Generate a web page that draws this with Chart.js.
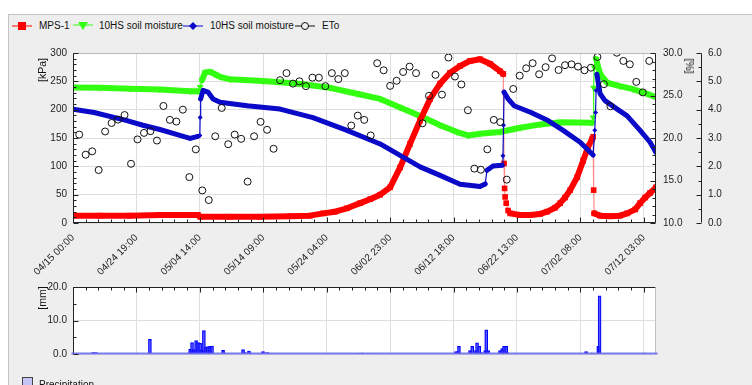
<!DOCTYPE html>
<html><head><meta charset="utf-8">
<script src="https://cdn.jsdelivr.net/npm/chart.js@4.4.1/dist/chart.umd.min.js"></script>
<style>
html,body{margin:0;padding:0;background:#fff;overflow:hidden;}
#wrap{position:relative;width:752px;height:385px;overflow:hidden;font-family:'Liberation Sans',Arial,sans-serif;color:#111;}
#panel{position:absolute;left:8px;top:14px;width:760px;height:400px;background:#eeeeee;border-left:1px solid #c4c4c4;border-top:1px solid #c4c4c4;}
canvas{position:absolute;left:0;}
#cTop{top:40px;}
#cBot{top:275px;}
.lg{position:absolute;font-size:10px;line-height:12px;white-space:nowrap;}
.ic{position:absolute;}
.ttl{position:absolute;font-size:10.5px;white-space:nowrap;transform:translate(-50%,-50%) rotate(-90deg);}
.ttlR{position:absolute;font-size:10.5px;white-space:nowrap;transform:translate(-50%,-50%) rotate(90deg);}
</style></head>
<body>
<div id="wrap">
  <div id="panel"></div>
  <svg class="ic" style="left:12px;top:21px" width="20" height="10"><line x1="0" y1="5" x2="20" y2="5" stroke="#ff0000" stroke-width="1"/><rect x="6" y="1" width="8" height="8" fill="#ff0000"/></svg>
  <div class="lg" style="left:39px;top:20px">MPS-1</div>
  <svg class="ic" style="left:73px;top:21px" width="20" height="10"><line x1="0" y1="4" x2="20" y2="4" stroke="#33ff11" stroke-width="1"/><polygon points="5,1 15,1 10,9" fill="#33ff11"/></svg>
  <div class="lg" style="left:99px;top:20px">10HS soil moisture</div>
  <svg class="ic" style="left:183px;top:21px" width="20" height="10"><line x1="0" y1="5" x2="20" y2="5" stroke="#0a0ac8" stroke-width="1"/><polygon points="10,1 14,5 10,9 6,5" fill="#0a0ac8"/></svg>
  <div class="lg" style="left:210px;top:20px">10HS soil moisture</div>
  <svg class="ic" style="left:295px;top:21px" width="20" height="10"><line x1="0" y1="5" x2="20" y2="5" stroke="#111" stroke-width="1"/><circle cx="10" cy="5" r="3.5" fill="#eeeeee" stroke="#111" stroke-width="1"/></svg>
  <div class="lg" style="left:322px;top:20px">ETo</div>
  <canvas id="cTop" width="752" height="245"></canvas>
  <canvas id="cBot" width="752" height="110"></canvas>
  <div class="ttl" style="left:42px;top:70px">[kPa]</div>
  <div class="ttlR" style="left:690px;top:66px">[%]</div>
  <div class="ttl" style="left:42px;top:298px">[mm]</div>
  <div style="position:absolute;left:22px;top:377px;width:9px;height:9px;background:#c4c4f6;border:1px solid #444;"></div>
  <div class="lg" style="left:39px;top:379px">Precipitation</div>
</div>
<script>
// ---- data (x in hours since 04/15 00:00) ----
const xTickLabels = ['04/15 00:00','04/24 19:00','05/04 14:00','05/14 09:00','05/24 04:00','06/02 23:00','06/12 18:00','06/22 13:00','07/02 08:00','07/12 03:00'];

const mpsHours = [0,100,211,322,463,471,582,693,804,878,927,971,1015,1064,1101,1138,1175,1212,1249,1286,1323,1360,1397,1434,1471,1508,1545,1582,1594,1597,1599,1601,1605,1612,1620,1657,1694,1731,1757,1786,1805,1823,1842,1868,1890,1909,1923,1927,1929,1931,1953,1990,2027,2053,2083,2101,2120,2138,2160];
const mpsKpa = [13,13,13,14,14,11,11,11,12,13,17,20,26,35,42,50,63,98,140,181,219,246,265,277,286,289,281,268,263,105,61,46,35,22,17,14,14,16,20,27,35,45,58,81,110,135,148,152,58,17,13,12,13,17,24,35,45,53,63];

const greenHours = [0,100,211,322,434,463,471,478,489,508,526,545,582,704,830,952,1052,1138,1212,1286,1360,1423,1464,1508,1582,1657,1731,1805,1923,1927,1929,1931,1938,1953,1979,2027,2075,2127,2160];
const greenPct = [25.95,25.9,25.8,25.7,25.5,25.5,26.0,26.8,27.7,27.8,27.5,27.2,26.9,26.7,26.4,25.9,25.2,24.6,23.6,22.6,21.5,20.7,20.3,20.5,20.7,21.2,21.6,21.85,21.8,22.4,25.9,28.3,29.3,27.5,26.5,26.1,25.75,25.2,24.8];

const blueHours = [0,78,200,259,322,396,434,463,470,471,473,482,500,519,545,645,767,889,1015,1138,1212,1286,1360,1434,1508,1527,1534,1556,1590,1593,1595,1597,1612,1634,1697,1760,1816,1879,1927,1933,1936,1938,1941,1953,1971,2016,2053,2101,2138,2160];
const bluePct = [23.4,23.0,22.05,21.5,21.0,20.3,19.95,20.2,20.3,22.4,24.6,25.6,25.4,24.6,24.2,23.8,23.4,22.4,20.9,19.3,17.95,16.6,15.6,14.56,14.3,14.6,16.2,16.7,16.8,17.9,21.5,25.4,24.6,23.8,23.0,22.05,20.9,19.5,18.0,20.9,23.0,25.6,27.5,25.2,24.4,23.4,22.6,20.9,19.5,18.3];

const etoFirstHour = 23; // daily values, one per day
const etoMm = [3.12,2.41,2.53,1.87,3.23,3.53,3.65,3.81,2.09,2.95,3.18,3.24,2.91,4.13,3.64,3.58,4.00,1.62,2.60,1.15,0.81,3.06,4.06,2.78,3.12,2.97,1.46,3.06,3.57,3.29,2.62,5.04,5.29,4.92,5.00,4.83,5.13,5.13,4.83,5.29,5.08,5.29,3.44,3.79,3.64,3.09,5.64,5.39,4.84,5.02,5.33,5.52,5.29,3.52,4.49,5.23,4.53,5.84,5.17,4.89,3.98,1.92,1.88,2.60,3.64,3.56,1.53,4.73,5.20,5.46,5.64,5.25,5.50,5.81,5.40,5.57,5.60,5.52,5.39,5.48,5.86,4.90,4.12,6.01,5.72,5.60,4.98,4.61,5.72];

const precipHours = [74,85,285,426,434,441,448,456,463,471,478,485,493,500,508,515,556,563,630,637,652,660,704,719,726,1056,1071,1093,1419,1427,1430,1471,1479,1493,1497,1505,1512,1527,1531,1538,1582,1590,1597,1605,1608,1901,1923,1946,1951,2116];
const precipMm = [0.4,0.4,4.4,0.3,1.4,3.4,1.3,4.0,3.4,3.2,1.2,7.0,2.1,2.2,2.3,2.4,1.1,0.3,1.3,0.4,0.9,0.3,0.7,0.4,0.3,0.2,0.3,0.2,0.7,0.7,2.3,1.0,2.3,1.0,3.3,2.3,0.4,1.0,7.2,1.0,1.0,1.6,2.3,2.3,0.4,0.7,0.3,2.3,17.4,0.3];

// ---- helpers ----
const X_MAX = 2160, X_MINOR = 47, X_MAJOR = 235;
const FONT = {family:"'Liberation Sans', Arial, sans-serif", size:10};
const pts = (xs, ys) => xs.map((x,i)=>({x, y: ys[i]}));
const thinSeg = (thin, thick) => ({borderWidth: c => (c.p1.parsed.x - c.p0.parsed.x) <= 8 ? thin : thick});

const axisDeco = {
  id:'axisDeco',
  beforeDraw(chart){
    const a = chart.chartArea, ctx = chart.ctx;
    ctx.save(); ctx.fillStyle='#ffffff'; ctx.fillRect(a.left,a.top,a.right-a.left,a.bottom-a.top); ctx.restore();
  },
  afterDatasetsDraw(chart, args, o){
    const ctx = chart.ctx, a = chart.chartArea;
    ctx.save();
    const line=(x1,y1,x2,y2,c,w)=>{ctx.strokeStyle=c;ctx.lineWidth=w||1;ctx.beginPath();ctx.moveTo(x1,y1);ctx.lineTo(x2,y2);ctx.stroke();};
    const L=Math.round(a.left)+0.5, R=Math.round(a.right)-0.5, T=Math.round(a.top)+0.5, B=Math.round(a.bottom)-0.5;
    line(L,T,R,T,o.topColor); line(R,T,R,B,o.rightColor); line(L,T,L,B,'#222');
    line(L-(o.bottomExt||0),B,R+(o.bottomExt||0),B,o.bottomColor,o.bottomWidth);
    const xs = chart.scales.x;
    for(let i=0;;i++){
      const v = xs.min + i*X_MINOR; if(v > xs.max) break;
      const px = Math.round(xs.getPixelForValue(v))+0.5;
      const len = (v % X_MAJOR === 0) ? 5 : 3;
      if(o.bottomTicks) line(px,B,px,B-len,'#222');
      if(o.topTicks) line(px,T,px,T+len,'#222');
    }
    for(const ax of o.yAxes){
      const s = chart.scales[ax.id];
      const x0 = Math.round(s.left)+0.5;
      if(ax.side==='outer') line(x0,T,x0,B,'#222');
      for(let j=0;;j++){
        const v = s.min + j*ax.step; if(v > s.max+1e-9) break;
        const py = Math.round(s.getPixelForValue(v))+0.5;
        const len = (j % ax.majorEvery === 0) ? 5 : 3;
        if(ax.side==='left') line(L,py,L+len,py,'#222');
        else if(ax.side==='right') line(R,py,R-len,py,'#222');
        else line(x0,py,x0-len,py,'#222');
      }
    }
    ctx.restore();
  }
};

const gridMajor = (step) => ({drawTicks:false, color: c => (c.tick && Math.abs(c.tick.value % step) < 1e-9) ? '#dedede' : 'rgba(0,0,0,0)'});

const xScale = (showLabels, h) => ({
  type:'linear', min:0, max:X_MAX, offset:false,
  grid: Object.assign(gridMajor(X_MAJOR), {offset:false}), border:{display:false},
  afterBuildTicks: s => { const t=[]; for(let v=0; v<=X_MAX; v+=X_MAJOR) t.push({value:v}); s.ticks = t; },
  ticks:{display:showLabels, autoSkip:false, maxRotation:45, minRotation:45, padding:9,
    font:FONT, color:'#222', callback: v => xTickLabels[Math.round(v / X_MAJOR)] || ''},
  afterFit: s => { s.height = h; }
});

new Chart(document.getElementById('cTop'), {
  type:'line',
  data:{ datasets:[
    {label:'ETo', yAxisID:'yEto', order:0, data: etoMm.map((v,i)=>({x: etoFirstHour + 24*i, y: v})), showLine:false,
     pointStyle:'circle', pointRadius:3.5, pointBorderWidth:1, pointBorderColor:'#111', pointBackgroundColor:'rgba(0,0,0,0)'},
    {label:'10HS soil moisture', yAxisID:'yPct', order:1, data: pts(blueHours, bluePct),
     borderColor:'#0a0ac8', backgroundColor:'#0a0ac8', pointStyle:'rectRot', pointRadius:2.5, pointBorderWidth:0,
     borderJoinStyle:'round', borderCapStyle:'round', segment: thinSeg(1.2, 5)},
    {label:'MPS-1', yAxisID:'y', order:2, data: pts(mpsHours, mpsKpa),
     borderColor:'#ff0000', backgroundColor:'#ff0000', pointStyle:'rect', pointRadius:4, pointBorderWidth:0,
     borderJoinStyle:'round', borderCapStyle:'round',
     segment:{borderWidth: c => (c.p1.parsed.x - c.p0.parsed.x) <= 8 ? 1.2 : 6, borderColor: c => (c.p1.parsed.x - c.p0.parsed.x) <= 8 ? 'rgba(255,60,60,0.6)' : '#ff0000'}},
    {label:'10HS soil moisture', yAxisID:'yPct', order:3, data: pts(greenHours, greenPct),
     borderColor:'#33ff11', backgroundColor:'#33ff11', pointStyle:'triangle', rotation:180, pointRadius:4, pointBorderWidth:0,
     borderJoinStyle:'round', borderCapStyle:'round', segment: thinSeg(1.2, 6)}
  ]},
  options:{
    responsive:false, animation:false, devicePixelRatio:1,
    layout:{padding:{top:12,left:0,right:0,bottom:0}},
    plugins:{legend:{display:false}, tooltip:{enabled:false},
      axisDeco:{topColor:'#b8b8b8', rightColor:'#222', bottomColor:'#222', bottomTicks:true, topTicks:false,
        yAxes:[{id:'y',step:10,majorEvery:5,side:'left'},{id:'yPct',step:1,majorEvery:5,side:'right'},{id:'yEto',step:0.5,majorEvery:2,side:'outer'}]}},
    scales:{
      x: xScale(true, 62),
      y:{position:'left', min:0, max:300, grid: gridMajor(50), border:{display:false},
         ticks:{stepSize:10, autoSkip:false, padding:6, font:FONT, color:'#222', callback: v => (v % 50 === 0) ? String(v) : ''},
         afterFit: s => { s.width = 73; }},
      yPct:{position:'right', weight:0, min:10, max:30, grid:{display:false, drawTicks:false}, border:{display:false},
         ticks:{stepSize:1, autoSkip:false, padding:7, font:FONT, color:'#222', callback: v => (v % 5 === 0) ? v.toFixed(1) : ''},
         afterFit: s => { s.width = 45; }},
      yEto:{position:'right', weight:1, min:0, max:6, grid:{display:false, drawTicks:false}, border:{display:false},
         ticks:{stepSize:0.5, autoSkip:false, padding:7, font:FONT, color:'#222', callback: v => (Math.abs(v % 1) < 1e-9) ? v.toFixed(1) : ''},
         afterFit: s => { s.width = 51; }}
    }
  },
  plugins:[axisDeco]
});

new Chart(document.getElementById('cBot'), {
  type:'bar',
  data:{ datasets:[
    {label:'Precipitation', data: pts(precipHours, precipMm), barThickness:3, grouped:false,
     backgroundColor:'rgba(90,90,255,0.55)', borderColor:'#0000ff', borderWidth:1}
  ]},
  options:{
    responsive:false, animation:false, devicePixelRatio:1,
    layout:{padding:{top:8,left:0,right:96,bottom:0}},
    plugins:{legend:{display:false}, tooltip:{enabled:false},
      axisDeco:{topColor:'#222', rightColor:'#c0c0c0', bottomColor:'rgba(100,100,235,0.85)', bottomWidth:2, bottomExt:2,
        bottomTicks:false, topTicks:true, yAxes:[{id:'y',step:5,majorEvery:2,side:'left'}]}},
    scales:{
      x: xScale(false, 31),
      y:{position:'left', min:0, max:20, grid: gridMajor(10), border:{display:false},
         ticks:{stepSize:5, autoSkip:false, padding:6, font:FONT, color:'#222', callback: v => (v % 10 === 0) ? v.toFixed(1) : ''},
         afterFit: s => { s.width = 73; }}
    }
  },
  plugins:[axisDeco]
});
</script>
</body></html>
